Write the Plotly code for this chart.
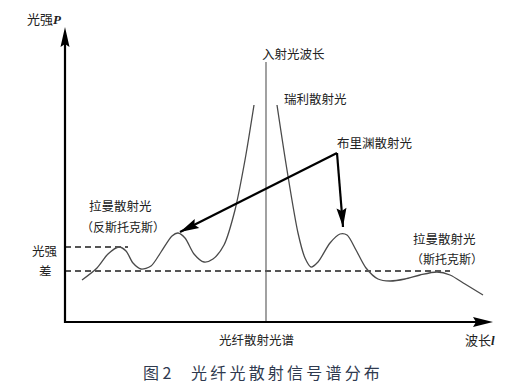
import math
import plotly.graph_objects as go

# ---- data (wavelength in arbitrary units from the origin, intensity P) ----
anti_stokes_to_rayleigh_wl = [17, 32, 43, 54, 61, 68, 76, 86, 96, 107, 113, 120, 129, 139, 148, 159, 170, 180, 189]
anti_stokes_to_rayleigh_p = [42, 54, 68, 75, 71, 59, 53, 56, 70, 86, 89, 84, 68, 60, 63, 77, 112, 162, 217]
rayleigh_to_stokes_wl = [212, 222, 233, 240, 246, 253, 265, 275, 282, 291, 301, 313, 325, 340, 355, 372, 385, 400, 418]
rayleigh_to_stokes_p = [217, 152, 89, 64, 55, 60, 79, 88, 87, 72, 54, 43, 41, 43, 47, 50, 47, 38, 27]

incident_wl = 201
incident_top = 260
level_high = 75
level_high_end = 63
level_low = 51
level_low_end = 385

brillouin_corner = (272, 169)
brillouin_tips = [(115, 90), (278, 95)]

x_axis_end = 428
y_axis_end = 295

FONT = "Noto Sans CJK SC, Noto Sans CJK JP, sans-serif"
TXT = "#222222"

fig = go.Figure()

# spectrum curve (open at the top of the Rayleigh peak)
fig.add_trace(go.Scatter(
    x=anti_stokes_to_rayleigh_wl + [None] + rayleigh_to_stokes_wl,
    y=anti_stokes_to_rayleigh_p + [None] + rayleigh_to_stokes_p,
    mode="lines", line=dict(color="#4a4a4a", width=1.3, shape="spline", smoothing=0.8),
    connectgaps=False, hoverinfo="skip", showlegend=False))

# incident wavelength line
fig.add_trace(go.Scatter(x=[incident_wl, incident_wl], y=[0, incident_top], mode="lines",
                         line=dict(color="#555555", width=1.1), showlegend=False, hoverinfo="skip"))

# dashed intensity-difference levels
for lvl, end in [(level_high, level_high_end), (level_low, level_low_end)]:
    fig.add_trace(go.Scatter(x=[0, end], y=[lvl, lvl], mode="lines",
                             line=dict(color="#555555", width=1.8, dash="6px,4px"),
                             showlegend=False, hoverinfo="skip"))

# axes
fig.add_trace(go.Scatter(x=[0, 0, x_axis_end - 15], y=[y_axis_end - 15, 0, 0], mode="lines",
                         line=dict(color="black", width=2.2), showlegend=False, hoverinfo="skip"))

# Brillouin pointer lines
for tip in brillouin_tips:
    fig.add_trace(go.Scatter(x=[brillouin_corner[0], tip[0]], y=[brillouin_corner[1], tip[1]],
                             mode="lines", line=dict(color="black", width=2.2),
                             showlegend=False, hoverinfo="skip"))


def head(tip, tail, length, width):
    dx, dy = tip[0] - tail[0], tip[1] - tail[1]
    d = math.hypot(dx, dy)
    ux, uy = dx / d, dy / d
    bx, by = tip[0] - ux * length, tip[1] - uy * length
    px, py = -uy * width / 2, ux * width / 2
    return (f"M{tip[0]},{tip[1]} L{bx + px},{by + py} "
            f"L{bx + ux * length * 0.15},{by + uy * length * 0.15} L{bx - px},{by - py} Z")


shapes = [
    dict(type="path", path=head((0, y_axis_end), (0, 0), 20, 9), fillcolor="black", line=dict(width=0)),
    dict(type="path", path=head((x_axis_end, 0), (0, 0), 20, 10), fillcolor="black", line=dict(width=0)),
]
for tip in brillouin_tips:
    shapes.append(dict(type="path", path=head(tip, brillouin_corner, 19, 10),
                       fillcolor="black", line=dict(width=0)))

labels = [
    ("光强<span style='font-family:Liberation Serif'><b><i>P</i></b></span>", -21, 304, 13),
    ("波长<span style='font-family:Liberation Serif'><b><i>l</i></b></span>", 415, -17, 13),
    ("光纤散射光谱", 191, -17, 12.5),
    ("入射光波长", 228, 269, 12.5),
    ("瑞利散射光", 250, 224, 12.5),
    ("布里渊散射光", 309, 180, 12.5),
    ("拉曼散射光", 55, 117, 12.5),
    ("（反斯托克斯）", 58, 96, 12),
    ("拉曼散射光", 379, 84, 12.5),
    ("（斯托克斯）", 382, 64, 12),
    ("光强", -20, 72, 12.5),
    ("差", -20, 52, 12.5),
]
annotations = [dict(text=t, x=x, y=y, xref="x", yref="y", showarrow=False,
                    font=dict(family=FONT, size=s, color=TXT)) for t, x, y, s in labels]
annotations.append(dict(text="图 2\u2003 光\u2009纤\u2009光\u2009散\u2009射\u2009信\u2009号\u2009谱\u2009分\u2009布",
                        x=196, y=-50, xref="x", yref="y", showarrow=False,
                        font=dict(family=FONT, size=16, color="#2f3a4f")))

fig.update_layout(
    width=520, height=390, margin=dict(l=0, r=0, t=0, b=0),
    paper_bgcolor="white", plot_bgcolor="white",
    xaxis=dict(range=[-65, 455], visible=False, fixedrange=True),
    yaxis=dict(range=[-68, 322], visible=False, fixedrange=True),
    shapes=shapes, annotations=annotations, showlegend=False,
)

fig.write_html("out.html")
